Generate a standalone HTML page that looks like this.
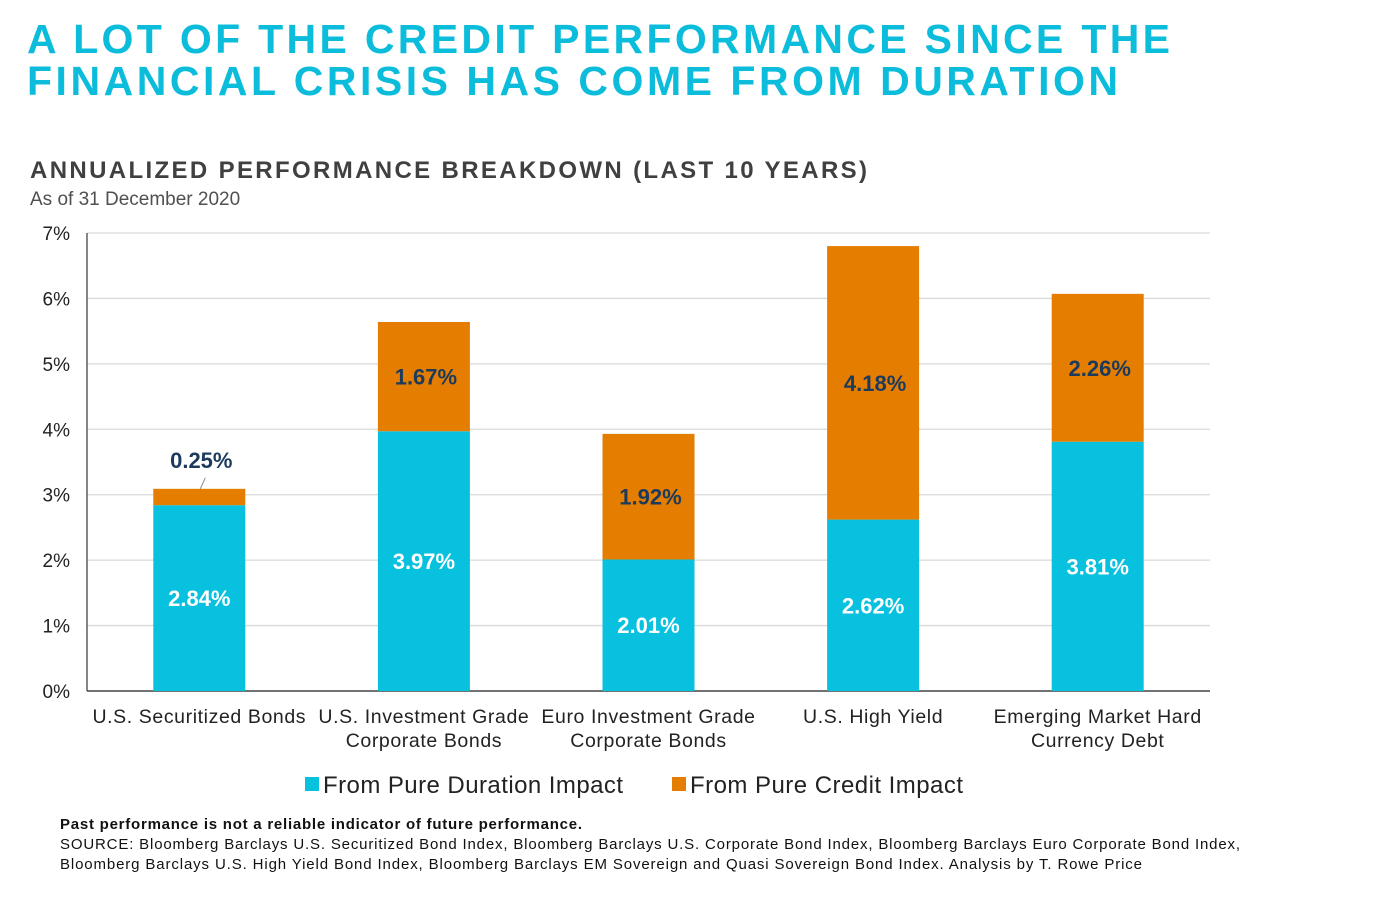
<!DOCTYPE html>
<html><head><meta charset="utf-8"><style>
body{margin:0;background:#fff;width:1388px;height:893px;overflow:hidden;font-family:"Liberation Sans",Arial,sans-serif}
</style></head><body>
<svg width="1388" height="893" xmlns="http://www.w3.org/2000/svg" font-family="Liberation Sans, Arial, sans-serif">
<g fill="#0BBCDB" font-weight="bold" font-size="41">
<text x="27" y="53" textLength="1143" lengthAdjust="spacing">A LOT OF THE CREDIT PERFORMANCE SINCE THE</text>
<text x="27" y="95" textLength="1091" lengthAdjust="spacing">FINANCIAL CRISIS HAS COME FROM DURATION</text>
</g>
<text x="30" y="178" font-size="24" font-weight="bold" fill="#404040" textLength="837" lengthAdjust="spacing">ANNUALIZED PERFORMANCE BREAKDOWN (LAST 10 YEARS)</text>
<text x="30" y="205" font-size="19" fill="#505050">As of 31 December 2020</text>
<g id="grid"></g><g id="bars"></g>
<g font-size="24" fill="#222">
<rect x="305" y="777" width="14" height="14" fill="#08C1DE"/>
<text x="323" y="793" textLength="300" lengthAdjust="spacing">From Pure Duration Impact</text>
<rect x="672" y="777" width="14" height="14" fill="#E57E00"/>
<text x="690" y="793" textLength="273" lengthAdjust="spacing">From Pure Credit Impact</text>
</g>
<g font-size="15" fill="#111">
<text x="60" y="829" font-weight="bold" textLength="522" lengthAdjust="spacing">Past performance is not a reliable indicator of future performance.</text>
<text x="60" y="849" textLength="1180" lengthAdjust="spacing">SOURCE:  Bloomberg  Barclays U.S. Securitized Bond  Index,  Bloomberg  Barclays U.S. Corporate Bond Index,  Bloomberg Barclays Euro Corporate Bond  Index,</text>
<text x="60" y="869" textLength="1082" lengthAdjust="spacing">Bloomberg  Barclays U.S. High Yield Bond Index,  Bloomberg  Barclays EM Sovereign  and Quasi Sovereign  Bond Index. Analysis by T. Rowe  Price</text>
</g>
</svg>
<script>
const categories=[["U.S. Securitized Bonds"],["U.S. Investment Grade","Corporate Bonds"],["Euro Investment Grade","Corporate Bonds"],["U.S. High Yield"],["Emerging Market Hard","Currency Debt"]];
const duration=[2.84,3.97,2.01,2.62,3.81];
const credit=[0.25,1.67,1.92,4.18,2.26];
const yTicks=[0,1,2,3,4,5,6,7];
const NS="http://www.w3.org/2000/svg";
const x0=87,x1=1210,yb=691,yt=233,ymax=7;
const y=v=>yb-(v/ymax)*(yb-yt);
const step=(x1-x0)/categories.length;
const xc=i=>x0+step*(i+0.5);
function mk(t,a,p){const e=document.createElementNS(NS,t);for(const k in a)e.setAttribute(k,a[k]);p.appendChild(e);return e;}
const g=document.getElementById('grid'),b=document.getElementById('bars');
yTicks.forEach(t=>{
 if(t>0){const l=mk('line',{x1:x0,x2:x1,y1:y(t),y2:y(t),stroke:'#d9d9d9','stroke-width':1.3},g);
 
 }
 const tx=mk('text',{x:70,y:y(t)+7,'text-anchor':'end','font-size':19,fill:'#222'},g);tx.textContent=t+'%';
 
 
});
const ax=mk('line',{x1:x0,x2:x0,y1:yt,y2:yb,stroke:'#444','stroke-width':1.3},g);


const bx=mk('line',{x1:x0,x2:x1,y1:yb,y2:yb,stroke:'#444','stroke-width':1.5},g);


const bw=92;
categories.forEach((c,i)=>{
 const cx=xc(i),d=duration[i],cr=credit[i];
 const r1=mk('rect',{x:cx-bw/2,y:y(d),width:bw,height:yb-y(d),fill:'#08C1DE'},b);
 
 
 const r2=mk('rect',{x:cx-bw/2,y:y(d+cr),width:bw,height:y(d)-y(d+cr),fill:'#E57E00'},b);
 
 
 const t1=mk('text',{x:cx,y:(y(d)+yb)/2+8,'text-anchor':'middle','font-size':22,'font-weight':'bold',fill:'#fff'},b);
 t1.textContent=d.toFixed(2)+'%';
 
 
 let ly=(y(d)+y(d+cr))/2+8;
 if(y(d)-y(d+cr)<30){ly=y(d+cr)-21;const ln=mk('line',{x1:cx+1,y1:y(d+cr),x2:cx+6,y2:y(d+cr)-11,stroke:'#888'},b);
  
  }
 const t2=mk('text',{x:cx+2,y:ly,'text-anchor':'middle','font-size':22,'font-weight':'bold',fill:'#1B3A5C'},b);
 t2.textContent=cr.toFixed(2)+'%';
 
 
 c.forEach((s,j)=>{const t=mk('text',{x:cx,y:723+j*24,'text-anchor':'middle','font-size':19.5,fill:'#222','letter-spacing':0.6},b);t.textContent=s;
  
  });
});
</script>
</body></html>
